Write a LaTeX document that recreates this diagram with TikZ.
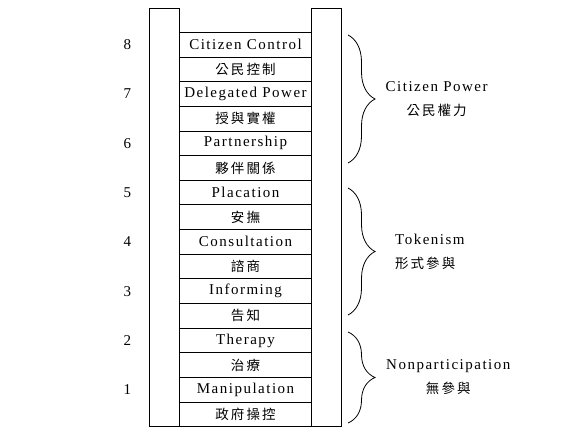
\documentclass[tikz,border=0pt]{standalone}
\usepackage{fontspec}
\newfontfamily\latin{Liberation Serif}[LetterSpace=10]
\newfontfamily\cjk{Noto Sans CJK TC}[LetterSpace=15]
\usepackage{tikz}
\usetikzlibrary{positioning, decorations.pathreplacing}

\begin{document}
\begin{tikzpicture}[
    x=1pt, y=-1pt,
    rail/.style={rectangle, draw, line width=0.8pt, inner sep=0pt, outer sep=0pt,
                 minimum width=30.3pt, minimum height=418.7pt},
    rung/.style={rectangle, draw, line width=0.8pt, inner sep=0pt, outer sep=0pt,
                 minimum width=132.4pt, minimum height=24.65pt,
                 font=\latin\fontsize{15}{18}\selectfont},
    rungzh/.style={rung, font=\cjk\fontsize{13.5}{16}\selectfont},
    num/.style={inner sep=0pt, font=\latin\fontsize{15}{18}\selectfont},
    lbl/.style={inner sep=0pt, font=\latin\fontsize{15}{24}\selectfont},
    brc/.style={decorate, decoration={brace, amplitude=27pt}, line width=0.8pt},
]
\useasboundingbox (0,0) rectangle (587,444);

% ladder rails
\node[rail] (lrail) at (164.15,217.35) {};
\node[rail] (rrail) at (326.5,217.35) {};

% rungs, top to bottom
\node[rung] (l8en) at (245.5,44.65) {Citizen Control};
\node[rungzh, below=0pt of l8en] (l8zh) {公民控制};
\node[rung, below=0pt of l8zh] (l7en) {Delegated Power};
\node[rungzh, below=0pt of l7en] (l7zh) {授與實權};
\node[rung, below=0pt of l7zh] (l6en) {Partnership};
\node[rungzh, below=0pt of l6en] (l6zh) {夥伴關係};
\node[rung, below=0pt of l6zh] (l5en) {Placation};
\node[rungzh, below=0pt of l5en] (l5zh) {安撫};
\node[rung, below=0pt of l5zh] (l4en) {Consultation};
\node[rungzh, below=0pt of l4en] (l4zh) {諮商};
\node[rung, below=0pt of l4zh] (l3en) {Informing};
\node[rungzh, below=0pt of l3en] (l3zh) {告知};
\node[rung, below=0pt of l3zh] (l2en) {Therapy};
\node[rungzh, below=0pt of l2en] (l2zh) {治療};
\node[rung, below=0pt of l2zh] (l1en) {Manipulation};
\node[rungzh, below=0pt of l1en] (l1zh) {政府操控};

% level numbers
\node[num, left=48pt of l8en] (n8) {8};
\node[num, left=48pt of l7en] (n7) {7};
\node[num, left=48pt of l6en] (n6) {6};
\node[num, left=48pt of l5en] (n5) {5};
\node[num, left=48pt of l4en] (n4) {4};
\node[num, left=48pt of l3en] (n3) {3};
\node[num, left=48pt of l2en] (n2) {2};
\node[num, left=48pt of l1en] (n1) {1};

% braces
\coordinate (cpTop) at (348,35);
\coordinate (cpBot) at (348,163);
\coordinate (cpTip) at (375,99);
\coordinate (tkTop) at (348,188);
\coordinate (tkBot) at (348,315);
\coordinate (tkTip) at (375,251.5);
\coordinate (npTop) at (348,332);
\coordinate (npBot) at (348,423);
\coordinate (npTip) at (375,377.5);
\draw[brc] (cpTop) -- (cpBot);
\draw[brc] (tkTop) -- (tkBot);
\draw[brc] (npTop) -- (npBot);

\node[lbl, align=center, right=10.5pt of cpTip] (cp) {Citizen Power\\{\cjk\fontsize{13.5}{24}\selectfont 公民權力}};
\node[lbl, align=left, right=20pt of tkTip] (tk) {Tokenism\\{\cjk\fontsize{13.5}{24}\selectfont 形式參與}};
\node[lbl, align=center, right=11pt of npTip] (np) {Nonparticipation\\{\cjk\fontsize{13.5}{24}\selectfont 無參與}};
\end{tikzpicture}
\end{document}
